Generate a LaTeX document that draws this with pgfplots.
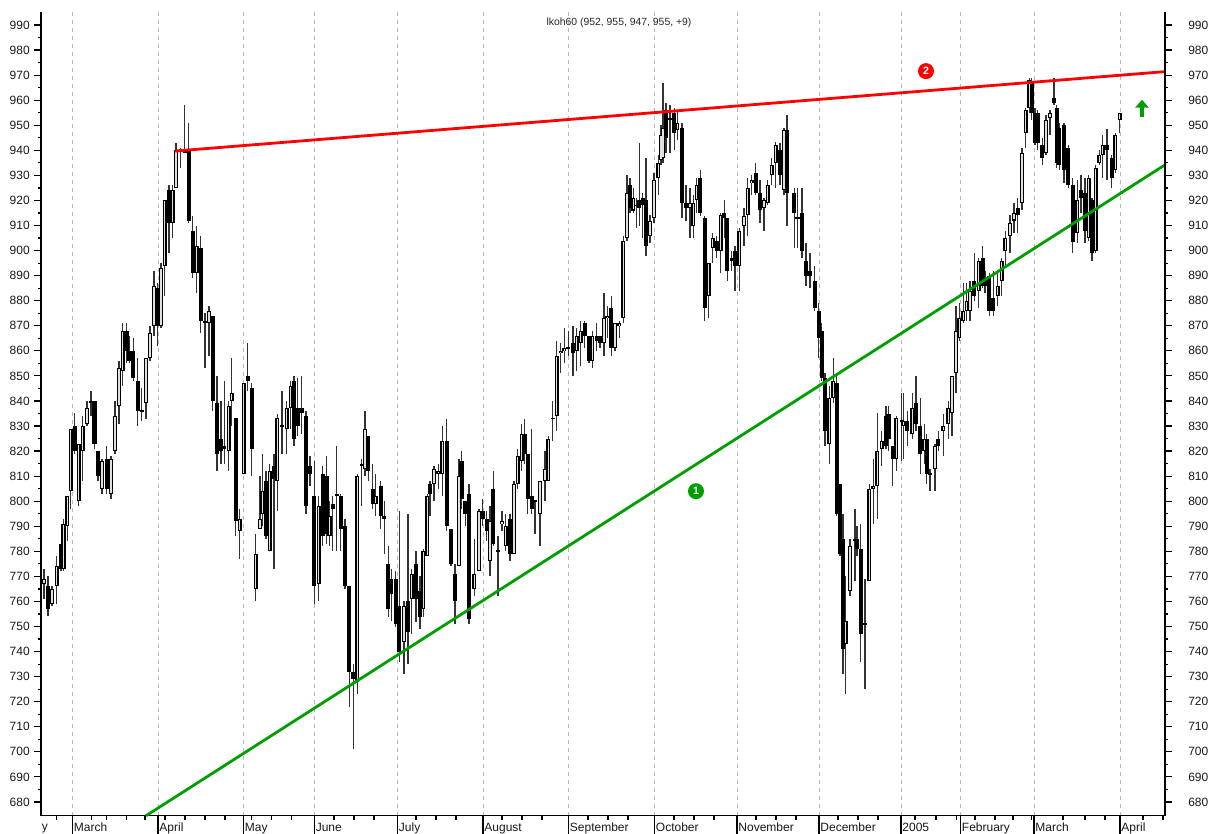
\documentclass[border=0pt]{standalone}
\usepackage{pgfplots}
\usepackage{pgfplotstable}
\usepackage{fontspec}
\setmainfont{Liberation Sans}
\pgfplotsset{compat=1.18}
\usetikzlibrary{arrows.meta}
\definecolor{tgreen}{RGB}{0,158,0}
\pgfplotstableread{
x o h l c
44 767 773 761 769
48 766 770 754 757
52 759 766 758 765
56.7 766 778 759 774
61 783 783 772 773
63.5 773 793 772 791
67.3 790 802 784 802
70.7 804 829 797 829
74.7 830 835 819 820
78.7 800 823 798 823
82.7 820 834 808 830
87 831 840 830 837
91 840 844 834 839
94.5 840 840 821 823
98 820 820 808 810
102 805 817 803 816
106.7 817 822 803 805
111 803 818 801 817
115 820 840 819 834
119 838 856 831 853
122.7 852 871 846 868
126.7 868 871 855 860
129.5 860 866 855 856
133.3 860 865 848 849
137.7 848 857 830 836
141.7 836 845 832 836
146 839 857 833 857
150 857 870 856 867
154 870 892 866 886
157.3 885 887 862 870
161 870 895 869 893
164.7 894 920 882 920
169 924 926 899 911
172.7 911 926 905 924
176 925 943 925 940
180.7 940 941 933 940
184.7 940 958 939 939
188.7 940 951 911 912
192.7 908 914 889 891
196.7 891 910 883 902
200.7 901 906 867 872
205 872 875 853 871
209 871 878 858 876
212.7 874 874 836 840
217 839 850 812 819
221 825 840 815 820
224.3 822 848 815 821
228.7 820 840 812 838
231.7 840 857 830 843
235.7 833 833 786 792
239.7 788 797 777 793
243.7 811 847 811 847
247.7 850 863 844 848
251.7 845 847 810 821
255.7 765 787 760 779
260 789 810 789 793
262.5 795 819 790 804
266 808 812 785 786
269.7 780 815 780 812
274 814 819 773 809
277.3 808 835 796 833
282 830 844 819 830
286.7 829 840 819 837
290.7 837 848 829 846
294 848 850 822 825
297.7 837 849 826 830
301.7 837 850 827 835
306 834 836 795 798
310 814 818 806 811
314.3 802 816 759 766
318.7 767 802 760 798
322.7 811 814 782 786
326.7 810 818 783 787
329.5 786 800 782 794
332.7 799 802 780 797
336.7 803 822 780 802
340.7 802 803 780 789
345 790 793 765 766
349.3 766 766 718 732
353.3 732 735 701 729
357.3 728 811 723 810
361.7 815 817 798 814
365 813 836 810 829
368.3 826 826 808 812
372.7 805 815 797 799
375.7 799 811 794 802
380.7 806 808 789 794
384.3 794 800 779 793
388.3 775 782 754 757
391.3 769 773 752 763
395.7 769 772 750 751
399.3 758 796 736 740
404 744 760 731 758
408 760 795 735 748
411.7 761 773 747 771
416 775 780 752 761
420 764 770 749 754
423.3 757 781 754 780
427.3 778 803 778 802
430 807 808 794 803
434 807 814 800 813
438.3 811 815 805 812
442.3 811 830 802 824
446.7 824 833 788 790
451 789 789 774 775
455 771 775 751 760
459 774 817 774 810
461.5 816 820 797 801
465.3 800 800 790 795
469 803 807 751 753
474.3 765 785 762 771
479 772 797 772 796
482.7 796 801 790 793
486.7 793 796 784 788
490 776 798 770 792
493.3 805 812 782 783
498 780 786 762 780
502 791 796 788 792
505.7 782 795 780 790
510 793 795 776 779
514 779 808 779 807
517.7 807 821 805 818
521.7 816 831 812 827
524.5 827 833 815 819
527.7 819 819 795 801
531.7 802 829 795 797
535 800 800 787 800
540 795 808 782 808
545 808 820 800 813
548.3 808 826 808 825
552.7 833 840 824 833
556.7 834 864 828 858
560.7 859 863 851 860
564.3 860 869 855 861
568.3 861 868 858 861
573 863 870 850 859
576.7 860 869 852 866
580.7 863 872 854 868
584.7 871 872 861 866
589 866 866 855 856
592.3 856 868 853 866
596.7 866 871 860 864
600 866 866 861 863
604 863 883 858 873
607.3 873 878 865 874
611.3 877 882 858 861
615 861 871 860 871
619.3 870 872 865 871
623.3 873 906 871 904
627 905 930 904 923
630 926 929 915 917
633.3 916 925 915 921
636.7 918 921 909 918
639.3 920 943 910 917
642.7 921 923 905 918
646 920 937 898 902
650 906 914 903 912
654 913 931 911 928
658.3 929 938 922 935
661 936 950 934 946
663 937 967 935 949
666 956 959 939 945
670 953 958 939 952
674.3 955 957 940 947
677.3 948 956 944 951
682 949 951 913 919
686 919 926 912 917
690 917 925 905 919
693.3 910 922 905 919
696.7 920 929 915 926
700.3 929 932 914 915
704.7 913 914 872 877
708.7 882 895 873 895
712.7 901 907 895 905
716.7 904 906 897 900
720.7 900 915 891 914
724.3 915 920 905 913
727.3 913 913 888 892
731.7 897 900 892 896
735 900 902 884 894
739.3 894 909 884 908
744 910 917 902 914
747.7 914 929 906 925
751.7 927 930 922 928
755.7 931 935 922 923
760 923 928 911 916
764 917 921 908 920
767.7 919 928 918 926
771.7 930 937 926 934
775.7 935 943.5 925 942
780 940 943 926 930
784 924 949 922 948
787 948 954 910 923
794.3 923 925 901 915
797.5 913 925 901 913
802 915 925 897 900
806 896 903 886 890
810 892 899 885 890
814.7 888 894 876 877
818.7 876 879 857 865
821.7 868 871 848 849
825 849 851 822 828
829.3 823 846 815 841
833.3 841 857 839 848
836.7 847 851 794 795
840 807 807 778 779
843 785 795 731 741
845.7 743 770 723 752
850 764 785 762 782
855 785 797 768 784
857 785 790 778 781
860.7 781 791 736 747
865 751 769 725 751
869.3 768 807 768 805
873.3 805 817 791 806
877.3 806 835 793 820
881.7 821 828 814 824
886 834 838 821 822
888.5 835 838 820 825
892.7 822 822 806 817
896.3 817 834 812 833
901.7 832 843 816 832
903.3 830 843 817 832
907.3 832 836 822 828
912.3 827 843 825 837
916 839 850 828 831
920.3 830 841 811 819
924.3 820 831 815 825
926.7 825 827 807 811
930 811 813 804 811
935 813 823 804 822
938.3 825 828 820 822
943.3 828 835 818 830
948.3 831 840 825 837
952 835 850 826 850
956 851 878 843 868
959.3 865 879 864 873
963.3 872 887 871 876
966.7 876 887 872 880
970 876 888 872 884
974.3 888 899 880 882
978.7 884 897 877 896
982.7 897 902 885 886
985 889 892 883 886
989.3 890 891 874 876
993.3 881 892 874 876
997.7 882 892 878 886
1001.7 888 897 882 896
1005.3 900 908 893 905
1010 906 914 899 911
1014 912 919 907 915
1017.7 917 921 907 914
1022 919 941 916 939
1025.7 947 957 941 956
1029.3 957 969 955 968
1031.7 967 969 952 955
1035 955 957 942 943
1037.7 955 956 940 943
1042.3 942 945 934 937
1046 939 954 938 952
1050 953 956 946 955
1054 961 969 958 959
1056.7 957 958 933 935
1059.3 949 951 932 934
1064 950 951 927 932
1068.3 941 942 925 926
1072.7 926 929 899 903.5
1077.3 907 928 903 920
1081 924 930 915 921
1085 923 929 903 908
1088.7 905 930 904 929
1092 920 921 896 899
1095.7 900 934 899 933
1099.3 935 940 934 938
1102.7 938 946 929 942
1107 942 948.5 928 940
1111.7 937 938 925 929
1115.3 932 947 931 946
1119.7 952 955 947 955
}\candles
\pgfplotsset{common/.style={
  scale only axis, width=843pt, height=602.8pt,
  xmin=41, xmax=1165, ymin=674.5, ymax=995.2,
  clip=false,
  tick style={black, line width=0.9pt},
  axis line style={black, line width=1pt},
  every axis plot/.append style={forget plot},
  /pgf/number format/assume math mode=true,
  ticklabel style={font=\fontsize{9}{10}\selectfont, text=black!90},
  ytick={680,690,...,990}, minor y tick num=1,
  major tick length=5.25pt, minor tick length=2.4pt,
}}
\begin{document}
\begin{tikzpicture}
\path[use as bounding box] (-30.75pt,-13.7pt) rectangle ++(907.5pt,625.5pt);
% x axis, month ticks and grid
\begin{axis}[common,
  axis y line=none, axis x line=bottom,
  x axis line style={-},
  tick align=outside,
  xtick={72.5,158,243.5,314.3,397.5,483,568.5,654.5,737,819,901,960.5,1034,1120},
  xticklabels={March,April,May,June,July,August,September,October,November,December,2005,February,March,April},
  minor xtick={56.7,91.7,106.7,126.7,145,165,185,205,225,251.7,271.7,291.7,334,354,374,416,436,456,502,522,542,588,608,628,674,694,714,756,776,796,838,858,878,915,936,956.7,975,995,1013,1031.7,1063,1085,1105,1143,1163},
  major tick length=14pt, minor tick length=3pt,
  xticklabel style={anchor=north west, inner sep=0pt, xshift=0.9pt, yshift=8.8pt, text height=6.5pt, text depth=2pt},
  xmajorgrids,
  major grid style={dash pattern=on 3pt off 3pt, black!28, line width=0.75pt},
]
\addplot[draw=none] coordinates {(41,700) (1165,700)};
\node[anchor=north west, inner sep=0pt, font=\fontsize{9}{10}\selectfont, text=black!90, text height=6.5pt, text depth=2pt] at (axis cs:41.5,672.2) {y};
\end{axis}
% data and left scale
\begin{axis}[common,
  axis x line=none, axis y line=left, y axis line style={-},
  tick align=outside,
  yticklabel style={anchor=east, inner sep=0pt, xshift=-3pt},
]
% wicks
\addplot[draw=none, mark=none, error bars/.cd, y dir=both, y explicit,
   error mark=none, error bar style={draw=black!80, line width=0.9pt, solid}]
  table[x=x, y expr=(\thisrow{h}+\thisrow{l})/2, y error expr=(\thisrow{h}-\thisrow{l})/2] {\candles};
% bodies
\addplot[draw=none, mark=none, error bars/.cd, y dir=both, y explicit,
   error mark=none, error bar style={draw=black, line width=3.1pt, solid}]
  table[x=x, y expr=(\thisrow{o}+\thisrow{c})/2, y error expr={max(abs(\thisrow{c}-\thisrow{o})/2,0.35)}] {\candles};
% hollow interior of rising candles
\addplot[draw=none, mark=none, error bars/.cd, y dir=both, y explicit,
   error mark=none, error bar style={draw=black!12, line width=1.15pt, solid}]
  table[x=x, y expr=(\thisrow{o}+\thisrow{c})/2, y error expr={\thisrow{c}>\thisrow{o} ? max(abs(\thisrow{c}-\thisrow{o})/2-0.4,0) : 0}] {\candles};
% trend lines
\addplot[tgreen, line width=2.1pt] coordinates {(146,674.5) (1165,934.2)};
\addplot[red, line width=2.1pt] coordinates {(175,939.7) (1165,971.4)};
% title and annotations
\node[font=\fontsize{7.8}{9}\selectfont, text=black!85] at (axis cs:619,990.8) {lkoh60 (952, 955, 947, 955, +9)};
\node[circle, fill=tgreen, text=white, inner sep=0pt, minimum size=12pt, font=\bfseries\fontsize{8}{8}\selectfont] at (axis cs:696,804) {1};
\node[circle, fill=red, text=white, inner sep=0pt, minimum size=12pt, font=\bfseries\fontsize{8}{8}\selectfont] at (axis cs:926,971.6) {2};
\draw[tgreen, line width=3.4pt, -{Triangle[width=10pt,length=6pt]}] (axis cs:1142,953.2) -- (axis cs:1142,960.2);
\end{axis}
% right scale
\begin{axis}[common,
  axis x line=none, axis y line=right, y axis line style={-},
  tick align=outside,
  yticklabel style={anchor=west, inner sep=0pt, xshift=12pt},
]
\addplot[draw=none] coordinates {(41,700) (1165,700)};
\end{axis}
\end{tikzpicture}
\end{document}
